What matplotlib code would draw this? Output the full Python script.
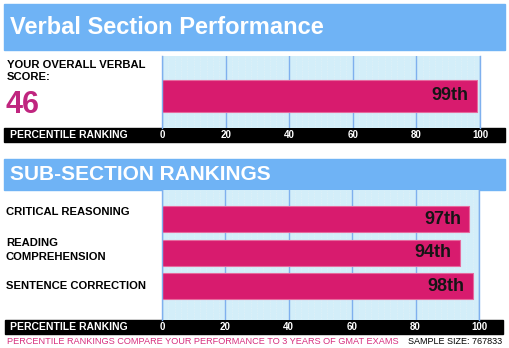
import matplotlib
matplotlib.use("Agg")
import matplotlib.pyplot as plt
from matplotlib.patches import Rectangle
from matplotlib.transforms import blended_transform_factory

plt.rcParams['font.family'] = ['Liberation Sans', 'DejaVu Sans']

# data
overall_score = 46
overall_pct = [99]
sub_names = ['CRITICAL REASONING', 'READING\nCOMPREHENSION', 'SENTENCE CORRECTION']
sub_pct = [97, 94, 98]
ticks = [0, 20, 40, 60, 80, 100]
sample_size = 767833

W, H = 509, 348
BANNER = '#6fb3f5'
AREA = '#d3eef9'
GRID = '#7fb0ee'
BAR = '#d81b6e'
BAR_EDGE = '#e66a9e'

fig = plt.figure(figsize=(W / 100, H / 100), dpi=100)
fig.patch.set_facecolor('white')

def px(x, y):
    # pixel position (from top-left) -> figure fraction
    return x / W, 1 - y / H

def rect(x0, y0, x1, y1, color):
    fx, fy = px(x0, y1)
    fig.patches.append(Rectangle((fx, fy), (x1 - x0) / W, (y1 - y0) / H,
                                 transform=fig.transFigure, color=color, zorder=-1))

def make_axes(x0, y0, x1, y1):
    fx, fy = px(x0, y1)
    ax = fig.add_axes([fx, fy, (x1 - x0) / W, (y1 - y0) / H])
    ax.set_facecolor(AREA)
    ax.set_xlim(0, 100)
    ax.set_xticks(ticks)
    ax.set_xticks(range(0, 101, 2), minor=True)
    ax.grid(axis='x', which='minor', color='#e0f1f8', lw=0.6, ls=(0, (1, 1)))
    ax.grid(axis='x', which='major', color=GRID, lw=1)
    ax.set_axisbelow(True)
    ax.set_yticks([])
    for s in ['top', 'bottom']:
        ax.spines[s].set_visible(False)
    for s in ['left', 'right']:
        ax.spines[s].set_color(GRID)
        ax.spines[s].set_linewidth(1)
    ax.tick_params(axis='x', which='both', length=0, pad=1.8,
                   labelcolor='white', labelsize=7)
    for t in ax.get_xticklabels():
        t.set_fontweight('bold')
    return ax

def value_labels(ax, ys, vals):
    for y, v in zip(ys, vals):
        ax.text(v - 2.6, y, f'{v}th', ha='right', va='center',
                fontsize=13, fontweight='bold', color='#151515')

# top section
rect(4, 4, 505, 50, BANNER)
fig.text(*px(10, 28), 'Verbal Section Performance', color='white',
         fontsize=17, fontweight='bold', va='center', ha='left')

ax1 = make_axes(162, 56, 480, 128)
ax1.set_ylim(-1.0, 1.25)
ax1.barh([0], overall_pct, height=1.0, color=BAR, edgecolor=BAR_EDGE, lw=0.8)
value_labels(ax1, [0], overall_pct)

fig.text(*px(7, 60), 'YOUR OVERALL VERBAL\nSCORE:', fontsize=8.1,
         fontweight='bold', va='top', ha='left', linespacing=1.25)
fig.text(*px(6, 105), str(overall_score), fontsize=22, fontweight='bold',
         color='#c0257f', va='center', ha='left')

rect(4, 128, 505, 142, 'black')
fig.text(*px(10, 135), 'PERCENTILE RANKING', color='white', fontsize=7.5,
         fontweight='bold', va='center', ha='left')

# sub-section
rect(4, 159, 505, 190, BANNER)
fig.text(*px(10, 175), 'SUB-SECTION RANKINGS', color='white',
         fontsize=15, fontweight='bold', va='center', ha='left')

ax2 = make_axes(162, 190, 479, 320)
ypos = list(range(len(sub_pct)))
ax2.set_ylim(3.01, -0.87)
ax2.barh(ypos, sub_pct, height=0.78, color=BAR, edgecolor=BAR_EDGE, lw=0.8)
value_labels(ax2, ypos, sub_pct)

tr = blended_transform_factory(fig.transFigure, ax2.transData)
for y, name in zip(ypos, sub_names):
    ax2.text(6 / W, y - (0.2 if y == 0 else 0.08 if '\n' in name else 0), name,
             transform=tr, fontsize=8.1, fontweight='bold', va='center',
             ha='left', linespacing=1.4)

rect(5, 320, 503, 334, 'black')
fig.text(*px(10, 327), 'PERCENTILE RANKING', color='white', fontsize=7.5,
         fontweight='bold', va='center', ha='left')

fig.text(*px(7, 342), 'PERCENTILE RANKINGS COMPARE YOUR PERFORMANCE TO 3 YEARS OF GMAT EXAMS',
         color='#d6307f', fontsize=6.6, va='center', ha='left')
fig.text(*px(502, 341), f'SAMPLE SIZE: {sample_size}', color='black',
         fontsize=6.5, va='center', ha='right')

fig.savefig('out.png', dpi=100)
